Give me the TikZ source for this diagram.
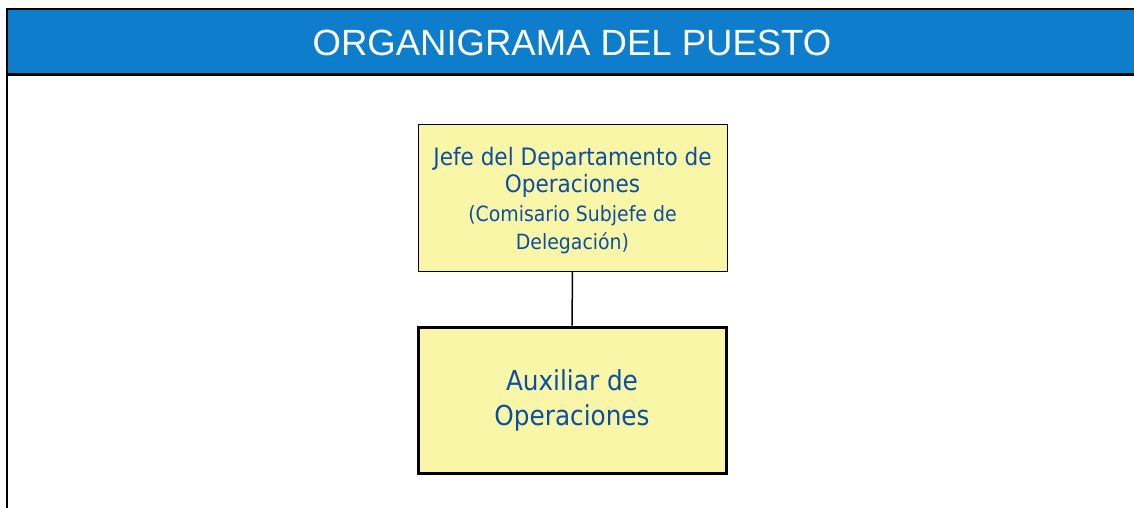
\documentclass[tikz,border=0pt]{standalone}
\usepackage{fontspec}
\newfontfamily\headfont{Liberation Sans}
\newfontfamily\boxfont{DejaVu Sans Condensed}
\definecolor{headblue}{HTML}{0E7ECC}
\definecolor{boxfill}{HTML}{F9F6A8}
\definecolor{textblue}{HTML}{0B4EA2}
\tikzset{
  orgbox/.style={draw=black, fill=boxfill, text=textblue, align=center, inner sep=0pt},
}
\begin{document}
\begin{tikzpicture}[x=1pt,y=-1pt]
\useasboundingbox (0,0) rectangle (1134,508);
\fill[white] (0,0) rectangle (1134,508);
% header
\fill[headblue] (7,9.5) rectangle (1134,74.5);
\draw[line width=2pt] (7,9.5) -- (1134,9.5);
\draw[line width=2.5pt] (7,74.5) -- (1134,74.5);
\draw[line width=2.5pt] (7,8.5) -- (7,508);
\node[text=white, font=\headfont\fontsize{36.5}{40}\selectfont] (title) at (572,43) {ORGANIGRAMA DEL PUESTO};
% boxes
\node[orgbox, line width=0.8pt, minimum width=309pt, minimum height=147pt,
      font=\boxfont\fontsize{24}{27.5}\selectfont] (jefe) at (572.5,197.5)
  {\rule{0pt}{24pt}Jefe del Departamento de\\
   Operaciones\\[1.5pt]
   {\fontsize{21}{27.5}\selectfont (Comisario Subjefe de}\\
   {\fontsize{21}{27.5}\selectfont Delegación)}};
\node[orgbox, line width=3pt, minimum width=308pt, minimum height=146pt,
      font=\boxfont\fontsize{27.5}{35}\selectfont] (aux) at (572,400)
  {Auxiliar de\\
   Operaciones};
\draw[line width=1.5pt] (jefe.south) -- (aux.north);
\end{tikzpicture}
\end{document}
